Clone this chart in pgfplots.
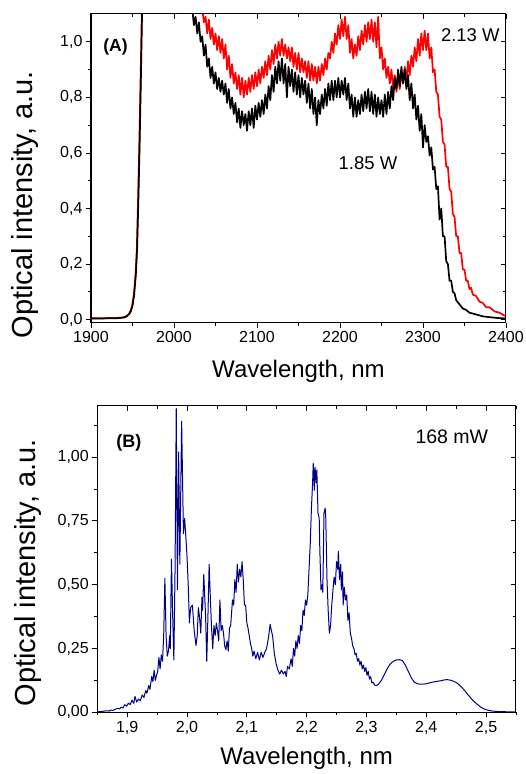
\documentclass[border=0pt]{standalone}
\usepackage{fontspec}
\setmainfont{Liberation Sans}
\usepackage{pgfplots}
\pgfplotsset{compat=1.18}
\definecolor{navy}{RGB}{0,0,135}
\pgfplotsset{
  base/.style={
    scale only axis,
    axis line style={line width=1pt},
    tick style={line width=0.8pt, color=black},
    major tick length=5pt, minor tick length=3pt,
    /pgf/number format/assume math mode=true,
    tick label style={font=\fontsize{16}{19}\selectfont},
  },
  outer/.style={base, tick align=outside, xtick pos=left, ytick pos=left},
  inner/.style={base, tick align=inside, xtick pos=right, ytick pos=right,
    xticklabels={}, yticklabels={}},
  topax/.style={at={(91pt,451pt)}, anchor=south west, width=415pt, height=309pt,
    xmin=1900, xmax=2400, ymin=-0.012, ymax=1.1,
    xtick={1900,2000,2100,2200,2300,2400}, minor xtick={1950,2050,2150,2250,2350},
    ytick={0,0.2,0.4,0.6,0.8,1.0}, minor ytick={0.1,0.3,0.5,0.7,0.9}},
  botax/.style={at={(97.3pt,61.7pt)}, anchor=south west, width=418.7pt, height=306.3pt,
    xmin=1.85, xmax=2.55, ymin=0, ymax=1.2,
    xtick={1.9,2.0,2.1,2.2,2.3,2.4,2.5}, minor xtick={1.85,1.95,2.05,2.15,2.25,2.35,2.45,2.55},
    ytick={0,0.25,0.5,0.75,1.0}, minor ytick={0.125,0.375,0.625,0.875,1.125}},
}
\begin{document}
\begin{tikzpicture}
\path[use as bounding box] (0,0) rectangle (525pt,774pt);
% ---------------- panel A ----------------
\begin{axis}[outer, topax,
  xticklabel style={/pgf/number format/1000 sep={}},
  yticklabel style={/pgf/number format/.cd, use comma, fixed, fixed zerofill, precision=1},
  xlabel={Wavelength, nm}, ylabel={Optical intensity, a.u.},
  xlabel style={font=\fontsize{24}{28}\selectfont, at={(axis description cs:0.5,-0.178)}, anchor=base},
  ylabel style={font=\fontsize{29}{33}\selectfont, at={(axis description cs:-0.158,0.382)}, anchor=center},
]
\addplot[red, line width=1.7pt, line join=round] coordinates {
(1900,0.005)(1915,0.005)(1925,0.006)(1935,0.007)(1940,0.009)(1943,0.013)(1945.7,0.021)(1947.7,0.032)(1949.7,0.052)(1951.7,0.092)(1953.7,0.165)(1955.2,0.255)(1956.7,0.43)(1958.2,0.63)(1959.7,0.86)(1961.2,1.1)(1962.2,1.3)
(2030,1.14)(2032,1.11)(2034,1.12)(2036,1.07)(2038,1.09)(2040,1.03)(2042,1.08)(2044,1.01)(2046,1.05)(2048,0.99)
(2050,1.03)(2052,0.97)(2054,1.02)(2056,0.96)(2058,1.01)(2060,0.94)(2062,0.99)(2064,0.90)(2066,0.95)(2068,0.87)
(2070,0.92)(2072,0.85)(2074,0.89)(2076,0.83)(2078,0.88)(2080,0.81)(2082,0.87)(2084,0.80)(2086,0.86)(2088,0.81)
(2090,0.87)(2092,0.82)(2094,0.88)(2096,0.83)(2098,0.89)(2100,0.84)(2102,0.90)(2104,0.85)(2106,0.91)(2108,0.87)
(2110,0.93)(2112,0.88)(2114,0.95)(2116,0.90)(2118,0.97)(2120,0.92)(2122,0.99)(2124,0.94)(2126,1.00)(2128,0.95)
(2130,1.01)(2132,0.95)(2134,0.99)(2136,0.94)(2138,0.98)(2140,0.93)(2142,0.98)(2144,0.91)(2146,0.96)(2148,0.90)
(2150,0.96)(2152,0.89)(2154,0.94)(2156,0.89)(2158,0.93)(2160,0.87)(2162,0.93)(2164,0.86)(2166,0.92)(2168,0.86)
(2170,0.91)(2172,0.85)(2174,0.91)(2176,0.86)(2178,0.92)(2180,0.88)(2182,0.94)(2184,0.90)(2186,0.96)(2188,0.94)
(2190,1.00)(2192,0.96)(2194,1.03)(2196,0.99)(2198,1.06)(2200,1.01)(2202,1.08)(2204,1.02)(2206,1.09)(2208,1.01)
(2210,1.06)(2212,0.96)(2214,1.01)(2216,0.94)(2218,0.99)(2220,0.95)(2222,1.02)(2224,0.97)(2226,1.04)(2228,0.99)
(2230,1.06)(2232,1.00)(2234,1.07)(2236,1.01)(2238,1.08)(2240,1.00)(2242,1.07)(2244,0.98)(2246,1.09)(2248,0.94)
(2250,0.98)(2252,0.90)(2254,0.94)(2256,0.87)(2258,0.91)(2260,0.85)(2262,0.90)(2264,0.83)(2266,0.88)(2268,0.82)
(2270,0.88)(2272,0.83)(2274,0.89)(2276,0.85)(2278,0.91)(2280,0.86)(2282,0.93)(2284,0.88)(2286,0.95)(2288,0.91)
(2290,0.98)(2292,0.93)(2294,1.01)(2296,0.95)(2298,1.03)(2300,0.97)(2302,1.04)(2304,0.97)(2306,1.03)(2308,0.94)
(2310,0.98)(2312,0.89)(2314,0.90)(2316,0.82)(2318,0.81)(2320,0.73)(2322,0.72)(2324,0.64)(2326,0.63)(2328,0.55)
(2330,0.55)(2332,0.47)(2334,0.46)(2336,0.38)(2338,0.37)(2340,0.30)(2342,0.30)(2344,0.24)(2346,0.24)(2348,0.18)
(2350,0.18)(2352,0.14)(2354,0.14)(2356,0.11)(2358,0.115)(2360,0.09)(2364,0.085)(2368,0.065)(2372,0.06)(2376,0.045)
(2380,0.045)(2386,0.03)(2392,0.025)(2400,0.012)
};
\addplot[black, line width=1.7pt, line join=round] coordinates {
(1900,0.004)(1910,0.004)(1920,0.005)(1930,0.005)(1935,0.006)(1940,0.008)(1943,0.012)(1946,0.02)(1948,0.03)(1950,0.05)(1952,0.09)(1954,0.16)(1955.5,0.25)(1957,0.42)(1958.5,0.62)(1960,0.85)(1961.5,1.1)(1962.5,1.3)
(2020,1.14)(2022,1.12)(2024,1.06)(2026,1.09)(2028,1.03)(2030,1.07)(2032,1.00)(2034,1.02)(2036,0.95)(2038,0.99)
(2040,0.91)(2042,0.94)(2044,0.87)(2046,0.91)(2048,0.85)(2050,0.89)(2052,0.83)(2054,0.87)(2056,0.82)(2058,0.86)
(2060,0.81)(2062,0.85)(2064,0.78)(2066,0.83)(2068,0.76)(2070,0.80)(2072,0.74)(2074,0.78)(2076,0.71)(2078,0.76)
(2080,0.69)(2082,0.75)(2084,0.70)(2086,0.74)(2088,0.68)(2090,0.75)(2092,0.70)(2094,0.76)(2096,0.69)(2098,0.77)
(2100,0.72)(2102,0.78)(2104,0.73)(2106,0.79)(2108,0.74)(2110,0.81)(2112,0.76)(2114,0.84)(2116,0.79)(2118,0.88)
(2120,0.82)(2122,0.91)(2124,0.85)(2126,0.93)(2128,0.86)(2130,0.94)(2132,0.85)(2134,0.92)(2136,0.80)(2138,0.91)
(2140,0.84)(2142,0.90)(2144,0.82)(2146,0.89)(2148,0.81)(2150,0.88)(2152,0.80)(2154,0.87)(2156,0.81)(2158,0.86)
(2160,0.78)(2162,0.85)(2164,0.76)(2166,0.83)(2168,0.74)(2170,0.80)(2172,0.70)(2174,0.79)(2176,0.74)(2178,0.81)
(2180,0.76)(2182,0.83)(2184,0.77)(2186,0.85)(2188,0.79)(2190,0.86)(2192,0.79)(2194,0.86)(2196,0.80)(2198,0.87)
(2200,0.80)(2202,0.86)(2204,0.81)(2206,0.87)(2208,0.79)(2210,0.85)(2212,0.76)(2214,0.81)(2216,0.73)(2218,0.80)
(2220,0.73)(2222,0.79)(2224,0.74)(2226,0.81)(2228,0.75)(2230,0.82)(2232,0.76)(2234,0.83)(2236,0.75)(2238,0.82)
(2240,0.74)(2242,0.81)(2244,0.73)(2246,0.80)(2248,0.74)(2250,0.79)(2252,0.73)(2254,0.81)(2256,0.74)(2258,0.82)
(2260,0.76)(2262,0.84)(2264,0.79)(2266,0.87)(2268,0.83)(2270,0.90)(2272,0.84)(2274,0.91)(2276,0.85)(2278,0.90)
(2280,0.83)(2282,0.88)(2284,0.79)(2286,0.85)(2288,0.76)(2290,0.81)(2292,0.72)(2294,0.77)(2296,0.68)(2298,0.74)
(2300,0.62)(2302,0.70)(2304,0.64)(2306,0.66)(2308,0.59)(2310,0.62)(2312,0.54)(2314,0.55)(2316,0.47)(2318,0.48)
(2320,0.36)(2322,0.40)(2324,0.30)(2326,0.30)(2328,0.21)(2330,0.20)(2332,0.14)(2334,0.14)(2336,0.10)(2338,0.095)
(2340,0.07)(2344,0.055)(2348,0.04)(2352,0.035)(2356,0.025)(2360,0.022)(2366,0.017)(2372,0.012)(2380,0.009)(2390,0.006)(2400,0.004)
};
\node[font=\bfseries\fontsize{17.5}{20}\selectfont] at (axis cs:1929.6,0.981) {(A)};
\node[font=\fontsize{18.5}{21}\selectfont] at (axis cs:2357,1.024) {2.13 W};
\node[font=\fontsize{18.5}{21}\selectfont] at (axis cs:2233.7,0.563) {1.85 W};
\end{axis}
\begin{axis}[inner, topax]
\end{axis}
% ---------------- panel B ----------------
\begin{axis}[outer, botax,
  xticklabel style={/pgf/number format/.cd, use comma, fixed, fixed zerofill, precision=1},
  yticklabel style={/pgf/number format/.cd, use comma, fixed, fixed zerofill, precision=2},
  xlabel={Wavelength, nm}, ylabel={Optical intensity, a.u.},
  xlabel style={font=\fontsize{24}{28}\selectfont, at={(axis description cs:0.5,-0.172)}, anchor=base},
  ylabel style={font=\fontsize{29}{33}\selectfont, at={(axis description cs:-0.165,0.455)}, anchor=center},
]
\addplot[navy, line width=1pt, line join=round] coordinates {
(1.850,0.002)(1.855,0.003)(1.860,0.004)(1.865,0.006)(1.870,0.005)(1.873,0.009)(1.876,0.007)(1.880,0.012)(1.884,0.016)(1.887,0.013)
(1.890,0.020)(1.893,0.017)(1.896,0.030)(1.899,0.024)(1.902,0.036)(1.905,0.030)(1.908,0.048)(1.911,0.035)(1.913,0.062)(1.916,0.040)
(1.919,0.052)(1.922,0.045)(1.925,0.068)(1.928,0.058)(1.931,0.085)(1.933,0.075)(1.936,0.105)(1.938,0.090)(1.941,0.140)(1.943,0.120)
(1.945,0.165)(1.947,0.125)(1.949,0.145)(1.951,0.160)(1.953,0.215)(1.955,0.170)(1.957,0.225)(1.959,0.200)(1.961,0.300)(1.963,0.525)
(1.965,0.300)(1.967,0.220)(1.969,0.240)(1.971,0.300)(1.972,0.250)(1.974,0.600)(1.976,0.380)(1.978,0.205)(1.980,0.560)(1.982,1.190)
(1.984,0.480)(1.986,1.020)(1.988,0.580)(1.991,1.140)(1.994,0.700)(1.996,0.760)(1.998,0.690)(2.000,0.610)(2.002,0.500)(2.004,0.350)
(2.006,0.410)(2.009,0.420)(2.012,0.320)(2.015,0.262)(2.017,0.300)(2.019,0.410)(2.021,0.370)(2.023,0.310)(2.025,0.450)(2.026,0.400)
(2.028,0.540)(2.031,0.380)(2.033,0.200)(2.035,0.380)(2.037,0.580)(2.039,0.450)(2.041,0.330)(2.043,0.250)(2.045,0.340)(2.047,0.300)
(2.049,0.350)(2.051,0.320)(2.053,0.280)(2.055,0.440)(2.057,0.320)(2.059,0.340)(2.061,0.310)(2.063,0.260)(2.065,0.245)(2.067,0.280)
(2.069,0.240)(2.071,0.330)(2.073,0.340)(2.076,0.440)(2.078,0.420)(2.080,0.520)(2.082,0.470)(2.084,0.580)(2.086,0.510)(2.088,0.560)
(2.090,0.530)(2.092,0.590)(2.094,0.520)(2.096,0.420)(2.098,0.420)(2.100,0.350)(2.102,0.330)(2.104,0.300)(2.106,0.270)(2.108,0.250)
(2.110,0.220)(2.112,0.240)(2.115,0.210)(2.118,0.235)(2.121,0.205)(2.124,0.235)(2.127,0.215)(2.130,0.235)(2.133,0.250)(2.136,0.290)
(2.139,0.345)(2.141,0.320)(2.143,0.300)(2.146,0.230)(2.149,0.190)(2.152,0.165)(2.155,0.150)(2.158,0.165)(2.161,0.150)(2.164,0.160)
(2.166,0.140)(2.168,0.180)(2.171,0.170)(2.174,0.210)(2.176,0.180)(2.178,0.250)(2.180,0.220)(2.182,0.280)(2.184,0.250)(2.186,0.300)
(2.188,0.270)(2.190,0.340)(2.192,0.320)(2.194,0.400)(2.196,0.380)(2.198,0.440)(2.200,0.420)(2.202,0.460)(2.204,0.560)(2.206,0.660)
(2.208,0.800)(2.210,0.900)(2.211,0.975)(2.213,0.870)(2.214,0.960)(2.216,0.900)(2.217,0.950)(2.219,0.780)(2.221,0.760)(2.222,0.640)
(2.224,0.480)(2.226,0.500)(2.227,0.470)(2.229,0.780)(2.231,0.800)(2.232,0.760)(2.234,0.520)(2.236,0.400)(2.238,0.310)(2.240,0.340)
(2.242,0.420)(2.244,0.480)(2.246,0.530)(2.248,0.500)(2.250,0.590)(2.252,0.560)(2.253,0.630)(2.255,0.520)(2.257,0.580)(2.258,0.480)
(2.260,0.550)(2.261,0.420)(2.263,0.490)(2.265,0.440)(2.267,0.460)(2.269,0.360)(2.271,0.390)(2.273,0.310)(2.275,0.290)(2.277,0.260)
(2.279,0.250)(2.281,0.225)(2.283,0.230)(2.285,0.200)(2.287,0.210)(2.289,0.185)(2.291,0.200)(2.293,0.170)(2.295,0.185)(2.297,0.160)
(2.299,0.175)(2.301,0.145)(2.303,0.160)(2.305,0.130)(2.307,0.140)(2.309,0.115)(2.311,0.118)(2.314,0.106)(2.317,0.105)(2.320,0.110)
(2.325,0.125)(2.330,0.148)(2.335,0.172)(2.340,0.190)(2.345,0.200)(2.350,0.205)(2.355,0.206)(2.360,0.203)(2.365,0.185)(2.370,0.160)
(2.375,0.135)(2.380,0.118)(2.385,0.112)(2.390,0.110)(2.395,0.110)(2.400,0.112)(2.405,0.115)(2.410,0.118)(2.415,0.120)(2.420,0.122)
(2.425,0.124)(2.430,0.127)(2.435,0.128)(2.440,0.126)(2.445,0.122)(2.450,0.117)(2.455,0.108)(2.460,0.096)(2.465,0.083)(2.470,0.068)
(2.475,0.054)(2.480,0.042)(2.485,0.032)(2.490,0.022)(2.495,0.015)(2.500,0.010)(2.510,0.005)(2.520,0.003)(2.535,0.002)(2.550,0.002)
};
\node[font=\bfseries\fontsize{18}{21}\selectfont] at (axis cs:1.9027,1.057) {(B)};
\node[font=\fontsize{19.5}{22}\selectfont] at (axis cs:2.4427,1.080) {168 mW};
\end{axis}
\begin{axis}[inner, botax]
\end{axis}
\end{tikzpicture}
\end{document}
